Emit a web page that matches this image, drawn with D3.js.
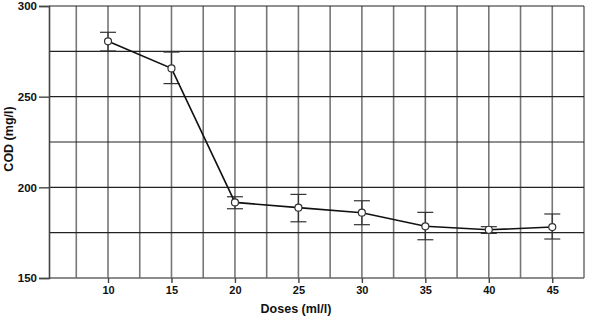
<!DOCTYPE html>
<html><head><meta charset="utf-8">
<script src="https://cdn.jsdelivr.net/npm/d3@7"></script>
<style>body{margin:0;background:#fff}svg{display:block}text{font-family:"Liberation Sans",Arial,sans-serif;font-weight:bold;fill:#111}</style>
</head><body><svg id="c" width="589" height="317"></svg>
<script>
const doses = [10, 15, 20, 25, 30, 35, 40, 45];
const cod = [280.5, 265.6, 191.7, 188.8, 186.0, 178.5, 176.6, 178.1];
const errHigh = [285.5, 274.6, 194.8, 196.1, 192.6, 186.2, 178.3, 185.3];
const errLow = [275.2, 257.2, 188.2, 181.0, 179.4, 171.1, 174.6, 171.5];
const xTicks = [10, 15, 20, 25, 30, 35, 40, 45];
const xGrid = [7.5, 10, 12.5, 15, 17.5, 20, 22.5, 25, 27.5, 30, 32.5, 35, 37.5, 40, 42.5, 45, 47.5];
const yTicks = [150, 200, 250, 300];
const yGrid = [175, 200, 225, 250, 275, 300];

const svg = d3.select("#c");
const L = 49, R = 584, T = 6, B = 278;
const x = d3.scaleLinear().domain([5.35, 47.5]).range([L, R]);
const y = d3.scaleLinear().domain([150, 300]).range([B, T]);

// vertical grid
svg.append("g").selectAll("line").data(xGrid).join("line")
  .attr("x1", d => x(d)).attr("x2", d => x(d)).attr("y1", T).attr("y2", B)
  .attr("stroke", "#777").attr("stroke-width", 1.6);
// horizontal grid
svg.append("g").selectAll("line").data(yGrid).join("line")
  .attr("x1", L).attr("x2", R).attr("y1", d => y(d)).attr("y2", d => y(d))
  .attr("stroke", "#222").attr("stroke-width", 1.1);
// bottom border
svg.append("line").attr("x1", L).attr("x2", R).attr("y1", B).attr("y2", B).attr("stroke", "#666").attr("stroke-width", 1.4);

// axes
const ya = svg.append("g").attr("transform", `translate(${L},0)`)
  .call(d3.axisLeft(y).tickValues(yTicks).tickSize(10).tickPadding(2).tickFormat(d3.format("d")));
ya.select(".domain").attr("stroke", "#444").attr("stroke-width", 1.6);
ya.selectAll(".tick line").attr("stroke", "#444").attr("stroke-width", 1.4);
ya.selectAll("text").style("font-size", "11.5px").attr("fill", "#111");

const xa = svg.append("g").attr("transform", `translate(0,${B})`)
  .call(d3.axisBottom(x).tickValues(xTicks).tickSize(5).tickPadding(3).tickFormat(d3.format("d")));
xa.select(".domain").remove();
xa.selectAll(".tick line").attr("stroke", "#444").attr("stroke-width", 1.4);
xa.selectAll("text").style("font-size", "11px").attr("fill", "#111");

// error bars
const eb = svg.append("g").attr("stroke", "#333").attr("stroke-width", 1.2);
doses.forEach((d, i) => {
  eb.append("line").attr("x1", x(d)).attr("x2", x(d)).attr("y1", y(errLow[i])).attr("y2", y(errHigh[i]));
  eb.append("line").attr("x1", x(d) - 8).attr("x2", x(d) + 8).attr("y1", y(errLow[i])).attr("y2", y(errLow[i]));
  eb.append("line").attr("x1", x(d) - 8).attr("x2", x(d) + 8).attr("y1", y(errHigh[i])).attr("y2", y(errHigh[i]));
});

// line
const data = doses.map((d, i) => ({d, v: cod[i]}));
svg.append("path").datum(data)
  .attr("fill", "none").attr("stroke", "#111").attr("stroke-width", 1.6)
  .attr("d", d3.line().x(p => x(p.d)).y(p => y(p.v)));
svg.append("g").selectAll("circle").data(data).join("circle")
  .attr("cx", p => x(p.d)).attr("cy", p => y(p.v)).attr("r", 3.5)
  .attr("fill", "#fff").attr("stroke", "#333").attr("stroke-width", 1.2);

// labels
svg.append("text").attr("x", 296).attr("y", 313).attr("text-anchor", "middle")
  .style("font-size", "12.5px").text("Doses (ml/l)");
svg.append("text").attr("transform", "translate(13,139) rotate(-90)").attr("text-anchor", "middle")
  .style("font-size", "12.5px").text("COD (mg/l)");
</script></body></html>
